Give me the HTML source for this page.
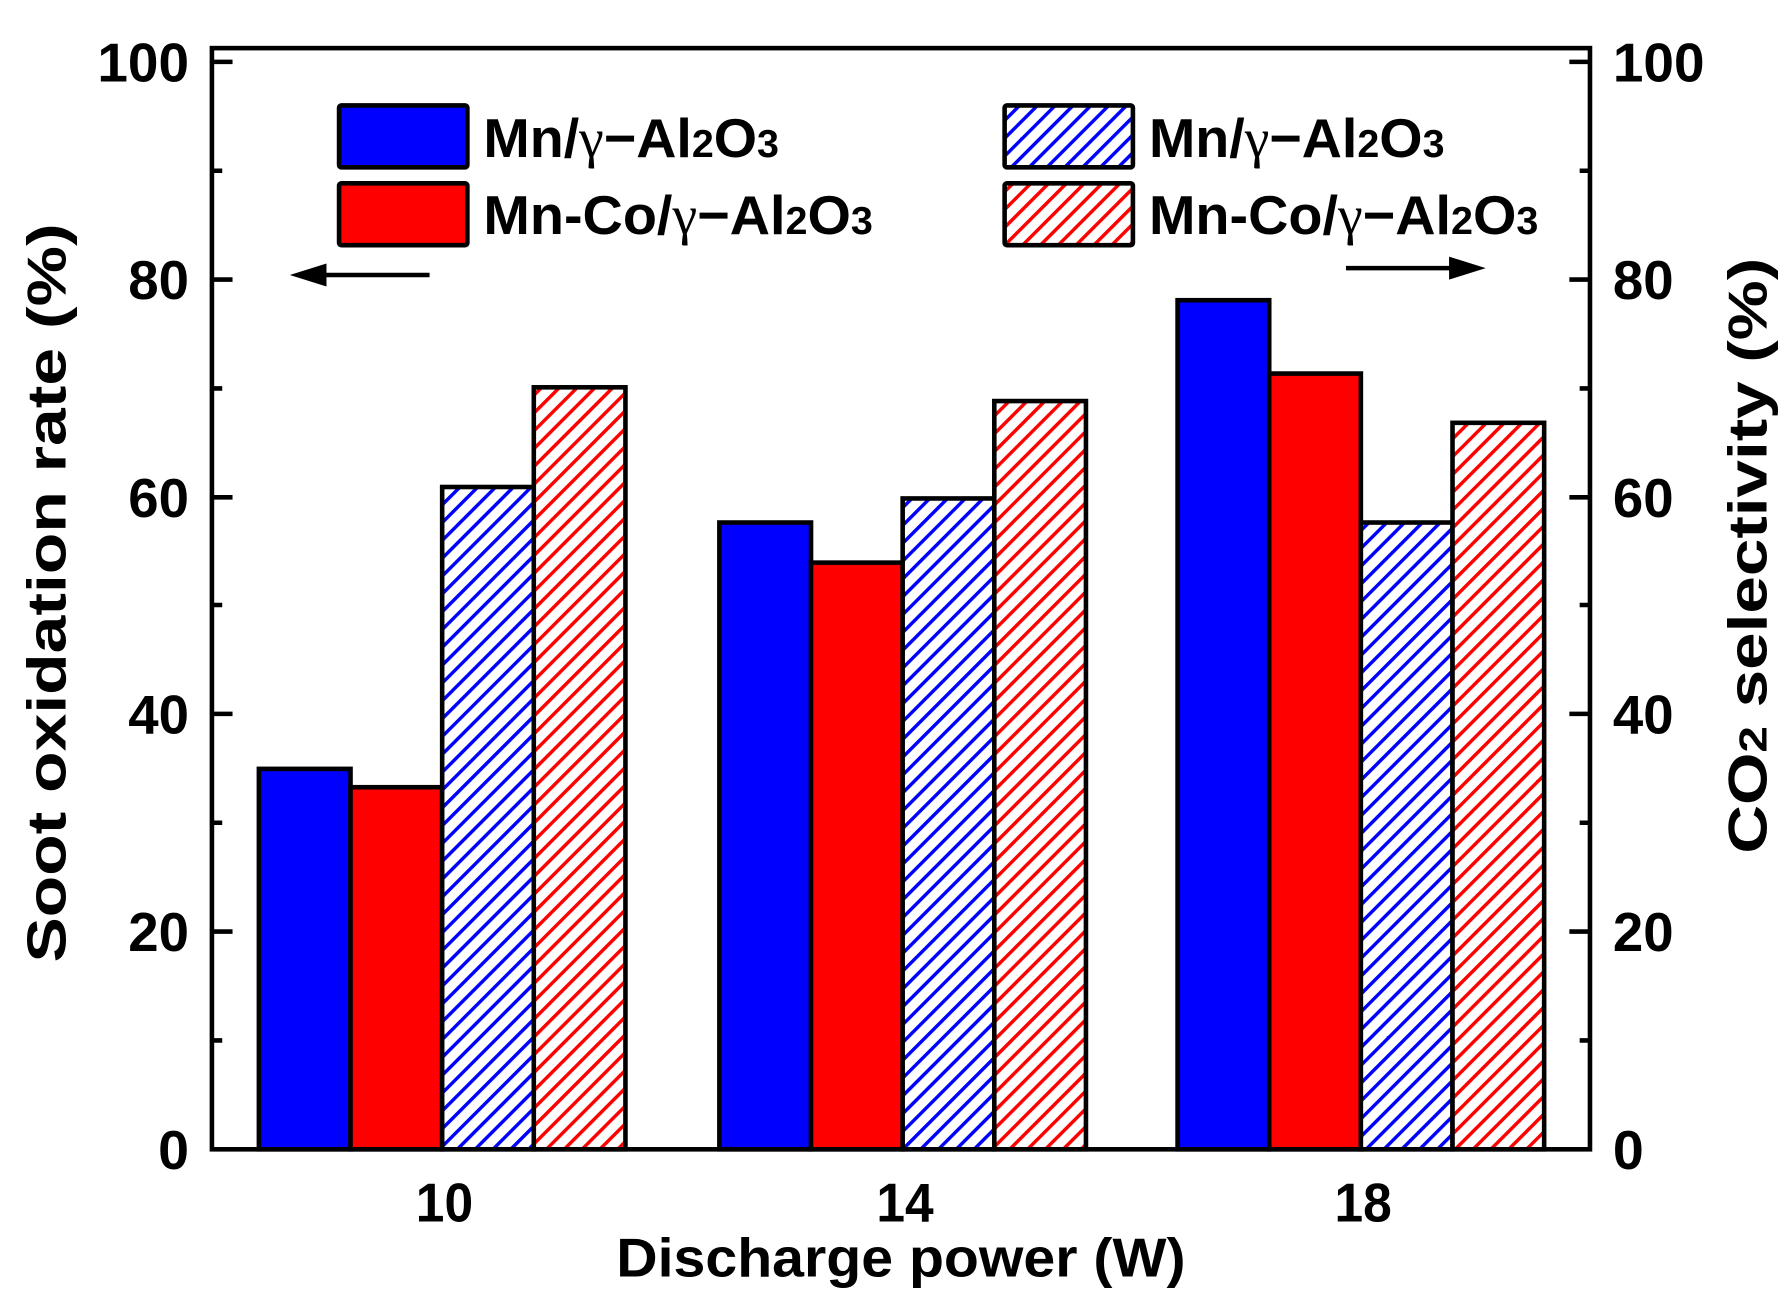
<!DOCTYPE html>
<html><head><style>html,body{margin:0;padding:0;background:#fff}svg{display:block}</style></head><body>
<svg width="1787" height="1304" viewBox="0 0 1560 1138" preserveAspectRatio="none" xmlns="http://www.w3.org/2000/svg" font-family="Liberation Sans, Arial, sans-serif" font-weight="bold">
<defs>
<pattern id="hb" patternUnits="userSpaceOnUse" width="11" height="11" patternTransform="rotate(45)"><rect width="11" height="11" fill="#fff"/><rect x="0" y="0" width="3" height="11" fill="#0000ff"/></pattern>
<pattern id="hr" patternUnits="userSpaceOnUse" width="11" height="11" patternTransform="rotate(45)"><rect width="11" height="11" fill="#fff"/><rect x="0" y="0" width="3" height="11" fill="#ff0000"/></pattern>
</defs>
<rect width="1560" height="1138" fill="#fff"/>
<g stroke="#000" stroke-width="4">
<rect x="226" y="671" width="80" height="332" fill="#0000ff"/>
<rect x="306" y="687" width="80" height="316" fill="#ff0000"/>
<rect x="386" y="425" width="80" height="578" fill="url(#hb)"/>
<rect x="466" y="338" width="80" height="665" fill="url(#hr)"/>
<rect x="628" y="456" width="80" height="547" fill="#0000ff"/>
<rect x="708" y="491" width="80" height="512" fill="#ff0000"/>
<rect x="788" y="435" width="80" height="568" fill="url(#hb)"/>
<rect x="868" y="350" width="80" height="653" fill="url(#hr)"/>
<rect x="1028" y="262" width="80" height="741" fill="#0000ff"/>
<rect x="1108" y="326" width="80" height="677" fill="#ff0000"/>
<rect x="1188" y="456" width="80" height="547" fill="url(#hb)"/>
<rect x="1268" y="369" width="80" height="634" fill="url(#hr)"/>
<rect x="185" y="42" width="1203" height="961" fill="none"/>
<path d="M185 54h18M185 244h18M185 434h18M185 623h18M185 813h18M185 149h9M185 339h9M185 528h9M185 718h9M185 908h9M1388 54h-18M1388 244h-18M1388 434h-18M1388 623h-18M1388 813h-18M1388 149h-9M1388 339h-9M1388 528h-9M1388 718h-9M1388 908h-9"/>
<rect x="296" y="92" width="112" height="54" fill="#0000ff" rx="2"/>
<rect x="296" y="160" width="112" height="54" fill="#ff0000" rx="2"/>
<rect x="877" y="92" width="112" height="54" fill="url(#hb)" rx="2"/>
<rect x="877" y="160" width="112" height="54" fill="url(#hr)" rx="2"/>
<path d="M375 240H275M1175 234H1275"/>
</g>
<path d="M253 240l32-10v20z M1297 234l-32-10v20z" fill="#000"/>
<g font-size="48">
<text x="85" y="71" textLength="80" lengthAdjust="spacingAndGlyphs">100</text>
<text x="112" y="261" textLength="53" lengthAdjust="spacingAndGlyphs">80</text>
<text x="112" y="451" textLength="53" lengthAdjust="spacingAndGlyphs">60</text>
<text x="112" y="640" textLength="53" lengthAdjust="spacingAndGlyphs">40</text>
<text x="112" y="830" textLength="53" lengthAdjust="spacingAndGlyphs">20</text>
<text x="138" y="1020" textLength="27" lengthAdjust="spacingAndGlyphs">0</text>
<text x="1408" y="71" textLength="80" lengthAdjust="spacingAndGlyphs">100</text>
<text x="1408" y="261" textLength="53" lengthAdjust="spacingAndGlyphs">80</text>
<text x="1408" y="451" textLength="53" lengthAdjust="spacingAndGlyphs">60</text>
<text x="1408" y="640" textLength="53" lengthAdjust="spacingAndGlyphs">40</text>
<text x="1408" y="830" textLength="53" lengthAdjust="spacingAndGlyphs">20</text>
<text x="1408" y="1020" textLength="27" lengthAdjust="spacingAndGlyphs">0</text>
<text x="363" y="1066" textLength="50" lengthAdjust="spacingAndGlyphs">10</text>
<text x="765" y="1066" textLength="50" lengthAdjust="spacingAndGlyphs">14</text>
<text x="1165" y="1066" textLength="50" lengthAdjust="spacingAndGlyphs">18</text>
<text x="538" y="1114" textLength="497" lengthAdjust="spacingAndGlyphs">Discharge power (W)</text>
<text transform="translate(57,840) rotate(-90)" textLength="645" lengthAdjust="spacingAndGlyphs">Soot oxidation rate (%)</text>
<text transform="translate(1542,745) rotate(-90)" textLength="520" lengthAdjust="spacingAndGlyphs">CO<tspan font-size="34">2</tspan> selectivity (%)</text>
<text x="422" y="137" textLength="258" lengthAdjust="spacingAndGlyphs">Mn/<tspan font-weight="normal" font-family="Liberation Serif, serif">γ</tspan>−Al<tspan font-size="34">2</tspan>O<tspan font-size="34">3</tspan></text>
<text x="422" y="204" textLength="340" lengthAdjust="spacingAndGlyphs">Mn-Co/<tspan font-weight="normal" font-family="Liberation Serif, serif">γ</tspan>−Al<tspan font-size="34">2</tspan>O<tspan font-size="34">3</tspan></text>
<text x="1003" y="137" textLength="258" lengthAdjust="spacingAndGlyphs">Mn/<tspan font-weight="normal" font-family="Liberation Serif, serif">γ</tspan>−Al<tspan font-size="34">2</tspan>O<tspan font-size="34">3</tspan></text>
<text x="1003" y="204" textLength="340" lengthAdjust="spacingAndGlyphs">Mn-Co/<tspan font-weight="normal" font-family="Liberation Serif, serif">γ</tspan>−Al<tspan font-size="34">2</tspan>O<tspan font-size="34">3</tspan></text>
</g>
</svg>
</body></html>
